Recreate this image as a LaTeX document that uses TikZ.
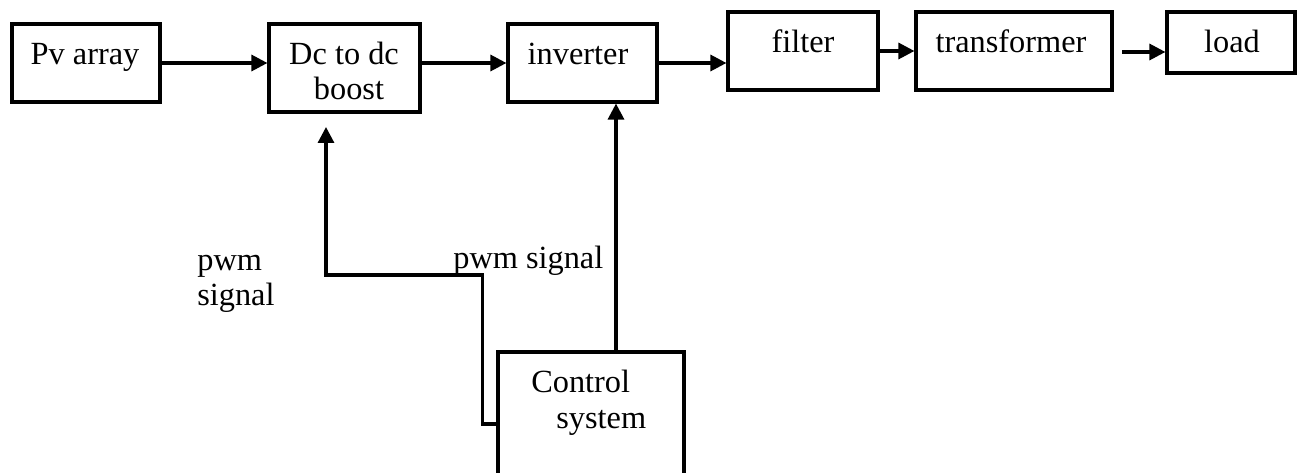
\documentclass[tikz,border=0pt]{standalone}
\usepackage{fontspec}
\setmainfont{Liberation Serif}
\usetikzlibrary{arrows.meta}

\tikzset{
  blk/.style={draw, line width=1.8pt, inner sep=0pt},
  txt/.style={anchor=base, inner sep=0pt, font=\fontsize{18.4}{22}\selectfont},
  arr/.style={line width=1.8pt, -{Triangle[length=0.32cm,width=0.32cm]}},
}

\begin{document}
\begin{tikzpicture}[x=0.02cm, y=-0.02cm]
        \useasboundingbox (0,0) rectangle (1302,473);
%        blocks
        \node [blk, minimum width=2.96cm, minimum height=1.56cm] (pv) at (86,63) {};
        \node [blk, minimum width=3.02cm, minimum height=1.76cm] (boost) at (344.5,68) {};
        \node [blk, minimum width=2.98cm, minimum height=1.56cm] (inv) at (582.5,63) {};
        \node [blk, minimum width=3.00cm, minimum height=1.56cm] (filt) at (803,51) {};
        \node [blk, minimum width=3.92cm, minimum height=1.56cm] (trans) at (1014,51) {};
        \node [blk, minimum width=2.56cm, minimum height=1.22cm] (load) at (1231,42.5) {};
        \node [blk, minimum width=3.72cm, minimum height=2.56cm] (ctrl) at (591,416) {};
%        texts
        \node [txt] (pvt) at (85,65) {Pv array};
        \node [txt] (boostt) at (344,65) {Dc to dc};
        \node [txt] (boostb) at (349,100) {boost};
        \node [txt] (invt) at (578,65) {inverter};
        \node [txt] (filtt) at (803,53) {filter};
        \node [txt] (transt) at (1011,53) {transformer};
        \node [txt] (loadt) at (1232,53) {load};
        \node [txt, anchor=base west] (ctrlt) at (531,392) {Control};
        \node [txt, anchor=base west] (ctrlb) at (556,428) {system};
        \node [txt, anchor=base west] (pwma) at (197,270) {pwm};
        \node [txt, anchor=base west] (pwmb) at (197,305) {signal};
        \node [txt, anchor=base west] (pwmc) at (453,268) {pwm signal};
%        connectors
        \coordinate (tout) at (1122,52);
        \coordinate (bin) at (326,127);
        \draw [arr] (pv.east) -- (pv.east -| boost.west);
        \draw [arr] (boost.east |- inv.west) -- (inv.west);
        \draw [arr] (inv.east) -- (inv.east -| filt.west);
        \draw [arr] (filt.east) -- (trans.west);
        \draw [arr] (tout) -- (tout -| load.west);
        \draw [arr] ([xshift=0.5cm]ctrl.north) -- ([xshift=0.5cm]ctrl.north |- inv.south);
        \draw [arr] ([yshift=-0.16cm]ctrl.west) -- ++(-14,0) |- (326,275) -- (bin);
\end{tikzpicture}
\end{document}
